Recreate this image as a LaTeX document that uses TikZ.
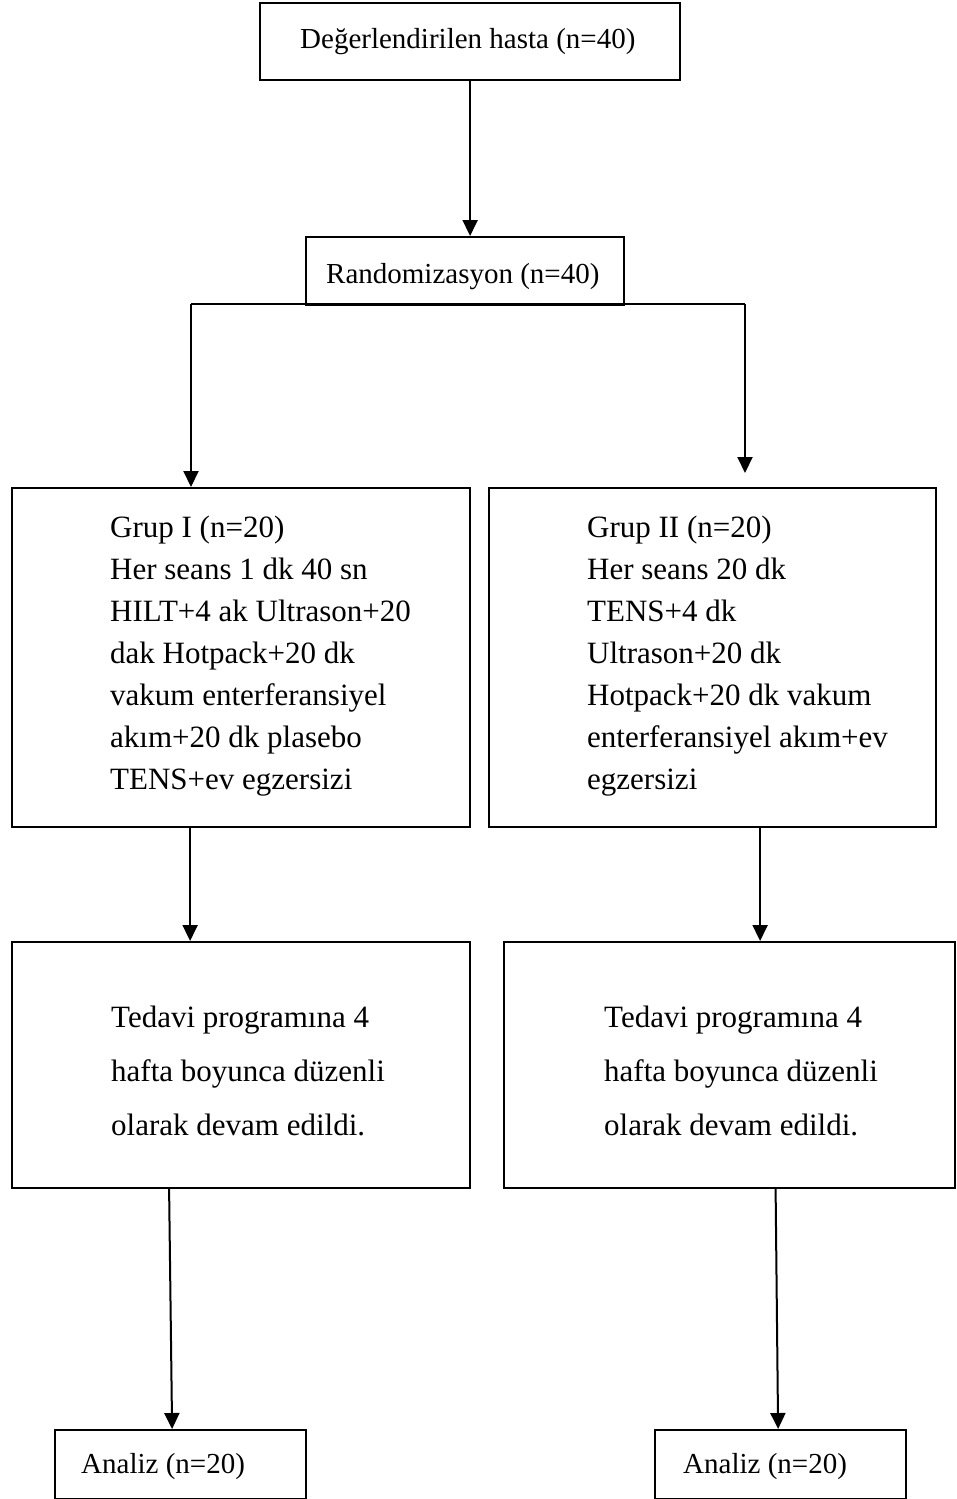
\documentclass[tikz,border=0pt]{standalone}
\usepackage{fontspec}
\setmainfont{Liberation Serif}
\usetikzlibrary{arrows.meta}
\begin{document}
\begin{tikzpicture}[x=1pt,y=-1pt,
  box/.style={draw, line width=2.2pt, inner sep=0pt, anchor=north west},
  conn/.style={line width=2pt, -{Triangle[width=15pt,length=16pt]}},
  plain/.style={line width=2pt},
  txt/.style={inner sep=0pt, anchor=base west, font=\fontsize{29}{35}\selectfont},
  btxt/.style={inner sep=0pt, anchor=base west, font=\fontsize{31}{36}\selectfont}]
\useasboundingbox (0,0) rectangle (956,1499);
% boxes
\node[box, minimum width=420pt, minimum height=77pt] (top) at (259,1.5) {};
\node[box, minimum width=318pt, minimum height=68pt] (rand) at (305,236) {};
\node[box, minimum width=458pt, minimum height=339pt] (g1) at (11,487) {};
\node[box, minimum width=447pt, minimum height=339pt] (g2) at (488,487) {};
\node[box, minimum width=458pt, minimum height=246pt] (t1) at (11,941) {};
\node[box, minimum width=451pt, minimum height=246pt] (t2) at (503,941) {};
\node[box, minimum width=251pt, minimum height=69pt] (a1) at (54,1429) {};
\node[box, minimum width=251pt, minimum height=69pt] (a2) at (654,1429) {};
% texts
\node[txt] (toptxt) at (300,48) {Değerlendirilen hasta (n=40)};
\node[txt] (randtxt) at (326,283) {Randomizasyon (n=40)};
\node[txt] (a1txt) at (81,1473) {Analiz (n=20)};
\node[txt] (a2txt) at (683,1473) {Analiz (n=20)};
\foreach \s [count=\i from 0] in {Grup I (n=20),Her seans 1 dk 40 sn,HILT+4 ak Ultrason+20,dak Hotpack+20 dk,vakum enterferansiyel,akım+20 dk plasebo,TENS+ev egzersizi}
  \node[btxt] (g1l\i) at (110,537+42*\i) {\s};
\foreach \s [count=\i from 0] in {Grup II (n=20),Her seans 20 dk,TENS+4 dk,Ultrason+20 dk,Hotpack+20 dk vakum,enterferansiyel akım+ev,egzersizi}
  \node[btxt] (g2l\i) at (587,537+42*\i) {\s};
\foreach \s [count=\i from 0] in {Tedavi programına 4,hafta boyunca düzenli,olarak devam edildi.}
  {\node[btxt] (t1l\i) at (111,1027+54*\i) {\s};
   \node[btxt] (t2l\i) at (604,1027+54*\i) {\s};}
% connectors
\draw[conn] (top.south) -- (top.south |- rand.north);
\coordinate (bl) at (191,304);
\coordinate (br) at (745,304);
\coordinate (brend) at (745,473);
\draw[plain] (bl) -- (br);
\draw[conn] (bl) -- (bl |- g1.north);
\draw[conn] (br) -- (brend);
\draw[conn] ([xshift=-51pt]g1.south) -- ([xshift=-51pt]g1.south |- t1.north);
\draw[conn] ([xshift=47.5pt]g2.south) -- ([xshift=47.5pt]g2.south |- t2.north);
\draw[conn] ([xshift=-72pt]t1.south) -- ([xshift=-8.5pt]a1.north);
\draw[conn] ([xshift=46pt]t2.south) -- ([xshift=-2.5pt]a2.north);
\end{tikzpicture}
\end{document}
